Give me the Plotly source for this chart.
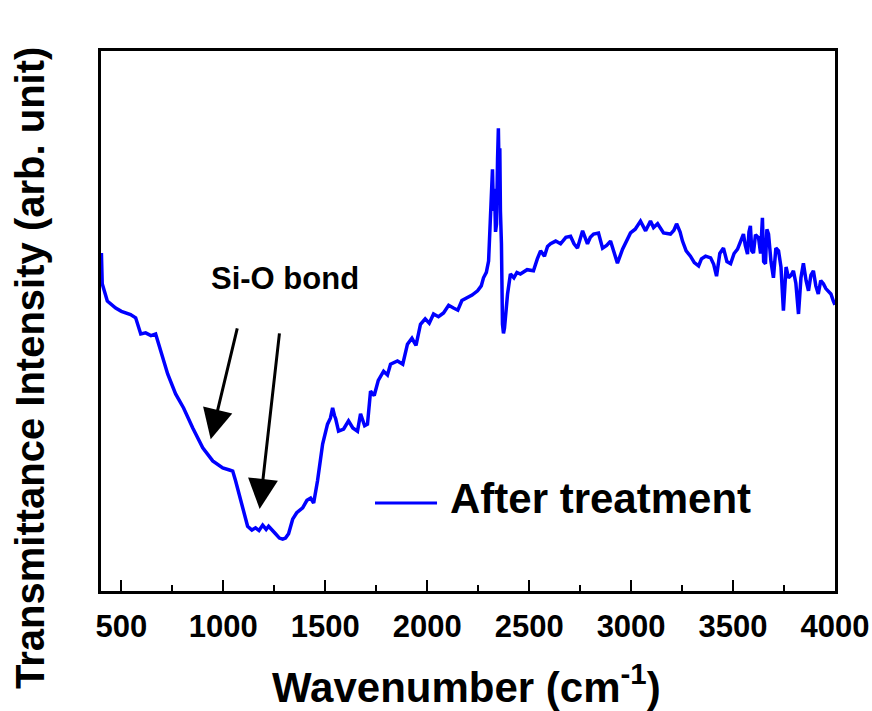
import plotly.graph_objects as go

# FTIR transmittance spectrum after treatment
wavenumber = [
    402, 404, 406, 431, 450, 472, 500, 521, 545, 570, 595, 619, 645, 668, 693,
    727, 766, 805, 850, 899, 948, 997, 1030, 1046, 1060, 1095, 1119, 1140, 1158,
    1175, 1193, 1210, 1222, 1256, 1275, 1291, 1305, 1320, 1340, 1360, 1389, 1410,
    1428, 1443, 1462, 1487, 1511, 1525, 1536, 1545, 1551, 1565, 1590, 1614, 1635,
    1658, 1673, 1693, 1707, 1722, 1740, 1760, 1786, 1805, 1820, 1854, 1880, 1903,
    1925, 1945, 1967, 1990, 2010, 2031, 2055, 2080, 2105, 2129, 2150, 2170, 2197,
    2220, 2247, 2265, 2276, 2290, 2301, 2310, 2315, 2320, 2325, 2330, 2335, 2340,
    2345, 2349, 2353, 2356, 2359, 2364, 2369, 2374, 2379, 2387, 2394, 2408, 2425,
    2440, 2457, 2490, 2521, 2540, 2556, 2575, 2590, 2605, 2630, 2654, 2680, 2703,
    2720, 2737, 2762, 2786, 2800, 2816, 2840, 2860, 2880, 2899, 2933, 2958, 2975,
    2997, 3020, 3046, 3071, 3095, 3110, 3130, 3159, 3193, 3210, 3223, 3240, 3252,
    3270, 3291, 3310, 3331, 3345, 3365, 3390, 3405, 3419, 3435, 3453, 3470, 3488,
    3505, 3522, 3535, 3551, 3560, 3571, 3578, 3585, 3592, 3600, 3610, 3625, 3635,
    3644, 3650, 3659, 3666, 3674, 3686, 3698, 3710, 3723, 3735, 3747, 3760, 3772,
    3785, 3796, 3808, 3821, 3833, 3845, 3858, 3870, 3882, 3894, 3906, 3918, 3930,
    3943, 3955, 3967, 3980, 3992, 4000,
]
intensity = [
    62.6, 59.3, 56.9, 53.7, 53.0, 52.4, 51.8, 51.5, 51.2, 50.6, 47.6, 47.8, 47.3, 47.6, 44.4,
    40.2, 36.5, 33.9, 30.2, 26.5, 24.1, 22.8, 22.4, 22.2, 20.4, 15.4, 12.0, 11.3, 11.7,
    11.2, 12.2, 11.4, 12.0, 10.6, 9.8, 9.6, 9.8, 10.6, 13.3, 14.5, 15.4, 16.8,
    17.2, 16.3, 20.4, 27.2, 30.9, 32.0, 33.9, 32.5, 31.9, 29.6, 30.0, 31.5, 30.2,
    29.6, 32.8, 30.6, 30.9, 37.0, 36.2, 39.0, 40.7, 40.0, 42.0, 42.6, 42.0, 45.7,
    46.8, 45.5, 49.4, 50.4, 49.6, 51.3, 50.8, 51.5, 52.9, 52.4, 52.0, 53.8, 54.3,
    54.8, 55.6, 56.5, 58.0, 59.0, 61.1, 70.4, 74.0, 78.1, 70.4, 74.5, 66.5, 68.0,
    80.0, 85.7, 76.0, 82.0, 70.4, 64.3, 49.4, 47.7, 48.7, 52.0, 55.0, 58.7, 58.0,
    59.0, 58.7, 59.5, 59.3, 61.5, 63.0, 62.0, 63.8, 64.3, 64.8, 64.3, 65.5, 65.7,
    64.3, 63.5, 66.7, 64.3, 65.5, 66.1, 66.3, 63.5, 64.0, 64.8, 60.7, 63.3, 64.5,
    66.3, 67.0, 68.5, 66.7, 68.5, 67.3, 68.0, 66.3, 66.1, 66.8, 68.0, 66.5, 64.8,
    63.0, 62.0, 60.8, 60.2, 61.5, 62.0, 61.7, 60.5, 58.3, 62.5, 63.5, 61.0, 60.6,
    62.5, 63.3, 64.5, 66.1, 64.0, 62.4, 66.5, 67.6, 63.0, 62.6, 66.0, 65.4, 62.5,
    69.1, 61.0, 60.6, 67.0, 66.1, 61.0, 58.0, 63.5, 63.0, 60.0, 51.9, 60.0, 58.0,
    58.5, 59.3, 57.0, 51.3, 58.0, 60.7, 57.5, 55.6, 58.5, 59.3, 56.5, 55.0, 57.5,
    56.9, 56.0, 55.6, 55.0, 53.7, 53.0,
]

x_ticks = [500, 1000, 1500, 2000, 2500, 3000, 3500, 4000]
series_name = "After treatment"

FONT = "Arial, Liberation Sans, sans-serif"
BLUE = "#0000FF"

fig = go.Figure()
fig.add_trace(go.Scatter(
    x=wavenumber, y=intensity, mode="lines", name=series_name,
    line=dict(color=BLUE, width=3.5), showlegend=False,
))

fig.update_layout(
    width=872, height=711,
    margin=dict(l=101, r=37, t=51, b=120),
    paper_bgcolor="white", plot_bgcolor="white",
    font=dict(family=FONT, color="black"),
)

fig.update_xaxes(
    range=[400, 4000], automargin=False,
    tickvals=x_ticks, ticktext=[str(t) for t in x_ticks],
    ticks="inside", ticklen=11, tickwidth=2, tickcolor="black",
    minor=dict(ticks="inside", ticklen=6, tickwidth=2, tickcolor="black",
               tick0=750, dtick=500, showgrid=False),
    tickfont=dict(family=FONT, size=31, weight="bold", color="black"),
    ticklabelstandoff=6,
    showline=True, linecolor="black", linewidth=3, mirror=True,
    showgrid=False, zeroline=False,
)
fig.update_yaxes(
    range=[0, 100], automargin=False,
    showticklabels=False, ticks="",
    showline=True, linecolor="black", linewidth=3, mirror=True,
    showgrid=False, zeroline=False,
)

# axis titles
fig.add_annotation(
    text="Wavenumber (cm<sup>-1</sup>)", xref="paper", yref="paper",
    x=0.4986, y=-0.172, xanchor="center", yanchor="middle", showarrow=False,
    font=dict(family=FONT, size=42, weight="bold", color="black"),
)
fig.add_annotation(
    text="Transmittance Intensity (arb. unit)", xref="paper", yref="paper",
    x=-0.0967, y=0.413, xanchor="center", yanchor="middle", textangle=-90,
    showarrow=False,
    font=dict(family=FONT, size=40, weight="bold", color="black"),
)

# band label with arrows
fig.add_annotation(
    text="Si-O bond", xref="paper", yref="paper", x=0.2507, y=0.578,
    xanchor="center", yanchor="middle", showarrow=False,
    font=dict(family=FONT, size=31, weight="bold", color="black"),
)
for tip, tail in [((938, 28.1), (1070, 48.9)), ((1178, 15.2), (1276, 48.0))]:
    fig.add_annotation(
        x=tip[0], y=tip[1], ax=tail[0], ay=tail[1],
        xref="x", yref="y", axref="x", ayref="y", text="",
        showarrow=True, arrowhead=2, arrowsize=2, arrowwidth=3,
        arrowcolor="black",
    )

# legend key
fig.add_shape(
    type="line", xref="paper", yref="paper",
    x0=0.3733, x1=0.4578, y0=0.163, y1=0.163,
    line=dict(color=BLUE, width=3),
)
fig.add_annotation(
    text=series_name, xref="paper", yref="paper", x=0.4728, y=0.172,
    xanchor="left", yanchor="middle", showarrow=False,
    font=dict(family=FONT, size=42, weight="bold", color="black"),
)

fig.write_html("out.html")
